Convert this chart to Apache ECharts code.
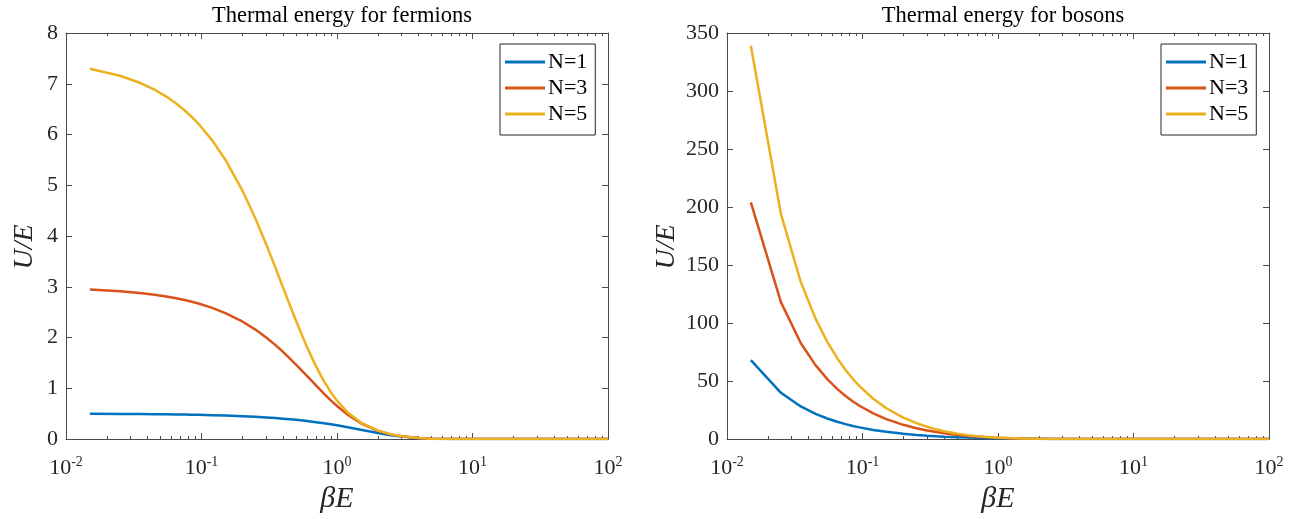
<!DOCTYPE html>
<html>
<head>
<meta charset="utf-8">
<script src="https://cdn.jsdelivr.net/npm/echarts@6/dist/echarts.min.js"></script>
<style>
  html, body { margin: 0; padding: 0; background: #fff; }
  #chart { width: 1306px; height: 519px; }
</style>
</head>
<body>
<div id="chart"></div>
<script>
// ---- data ----
const betaE = [0.015, 0.025, 0.035, 0.045, 0.055, 0.065, 0.075, 0.085, 0.095, 0.12, 0.15, 0.2, 0.25, 0.3, 0.35, 0.4, 0.45, 0.5, 0.6, 0.7, 0.8, 0.9, 1, 1.2, 1.5, 2, 2.5, 3, 4, 5, 7, 10, 20, 50, 100];

const fermionN1 = [0.4963, 0.4938, 0.4913, 0.4888, 0.4863, 0.4838, 0.4813, 0.4788, 0.4763, 0.4700, 0.4626, 0.4502, 0.4378, 0.4256, 0.4134, 0.4013, 0.3894, 0.3775, 0.3543, 0.3318, 0.3100, 0.2891, 0.2689, 0.2315, 0.1824, 0.1192, 0.0759, 0.0474, 0.0180, 0.0067, 0.0009, 0, 0, 0, 0];
const fermionN3 = [2.9475, 2.9125, 2.8776, 2.8427, 2.8078, 2.7731, 2.7384, 2.7038, 2.6692, 2.5835, 2.4818, 2.3158, 2.1554, 2.0014, 1.8547, 1.7158, 1.5851, 1.4627, 1.2429, 1.0548, 0.8955, 0.7617, 0.6496, 0.4776, 0.3103, 0.1626, 0.0909, 0.0527, 0.0187, 0.0068, 0.0009, 0, 0, 0, 0];
const fermionN5 = [7.2938, 7.1566, 7.0196, 6.8831, 6.7471, 6.6119, 6.4774, 6.3436, 6.2109, 5.8842, 5.5032, 4.9006, 4.3446, 3.8392, 3.3862, 2.9837, 2.6293, 2.3188, 1.8127, 1.4306, 1.1421, 0.9230, 0.7550, 0.5226, 0.3229, 0.1642, 0.0911, 0.0528, 0.0187, 0.0068, 0.0009, 0, 0, 0, 0];

const bosonN1 = [68, 39.8, 28.07, 21.73, 17.69, 14.89, 12.84, 11.27, 10.03, 7.843, 6.179, 4.517, 3.521, 2.858, 2.386, 2.033, 1.760, 1.542, 1.216, 0.986, 0.816, 0.685, 0.582, 0.431, 0.287, 0.157, 0.0894, 0.0524, 0.0187, 0.0068, 0.0009, 0, 0, 0, 0];
const bosonN3 = [204, 118, 82.76, 63.72, 51.61, 43.23, 37.09, 32.39, 28.69, 22.14, 17.17, 12.23, 9.290, 7.347, 5.974, 4.958, 4.180, 3.567, 2.673, 2.060, 1.621, 1.297, 1.052, 0.715, 0.426, 0.201, 0.1047, 0.0577, 0.0193, 0.0069, 0.0009, 0, 0, 0, 0];
const bosonN5 = [339, 194, 135.5, 103.8, 83.66, 69.72, 59.51, 51.71, 45.57, 34.71, 26.52, 18.41, 13.63, 10.51, 8.335, 6.753, 5.561, 4.640, 3.333, 2.474, 1.885, 1.466, 1.161, 0.761, 0.438, 0.203, 0.1049, 0.0578, 0.0194, 0.0069, 0.0009, 0, 0, 0, 0];

const seriesNames = ['N=1', 'N=3', 'N=5'];
const titles = ['Thermal energy for fermions', 'Thermal energy for bosons'];
const xMajorTicks = [0.01, 0.1, 1, 10, 100];
const xMinorTicks = [];
for (let d = -2; d < 2; d++) {
  for (let m = 2; m <= 9; m++) xMinorTicks.push(+(m * Math.pow(10, d)).toPrecision(6));
}
const yMax = [8, 350];
const yInterval = [1, 50];

// ---- styling ----
const colors = ['#0072BD', '#D95319', '#EDB120'];
const SERIF = '"Liberation Serif", "Times New Roman", serif';
const axisColor = '#4a4a4a';
const textColor = '#262626';
const grids = [
  { left: 66, top: 33, width: 542, height: 406 },
  { left: 727, top: 33, width: 542, height: 406 }
];

function expLabel(v) {
  const e = Math.round(Math.log10(v));
  return '{a|10}{b|' + e + '}';
}

const xAxes = [];
const yAxes = [];
const series = [];
const titleArr = [];
const legends = [];
const seriesData = [[fermionN1, fermionN3, fermionN5], [bosonN1, bosonN3, bosonN5]];
const yNameGap = [27, 46];

for (let g = 0; g < 2; g++) {
  const base = { type: 'log', logBase: 10, min: 0.01, max: 100, gridIndex: g, splitLine: { show: false } };
  xAxes.push(Object.assign({}, base, {
    position: 'bottom',
    name: 'βE', nameLocation: 'middle', nameGap: 40,
    nameTextStyle: { fontFamily: SERIF, fontStyle: 'italic', fontSize: 30, color: textColor },
    axisLine: { show: true, lineStyle: { color: axisColor, width: 1 } },
    axisTick: { show: true, inside: true, length: 6, customValues: xMajorTicks, lineStyle: { color: axisColor } },
    axisLabel: {
      show: true, customValues: xMajorTicks, margin: 16,
      formatter: expLabel,
      rich: {
        a: { fontFamily: SERIF, fontSize: 22, color: textColor },
        b: { fontFamily: SERIF, fontSize: 14, color: textColor, padding: [0, 0, 12, 0] }
      }
    }
  }));
  xAxes.push(Object.assign({}, base, {
    position: 'bottom',
    axisLine: { show: false },
    axisTick: { show: true, inside: true, length: 3, customValues: xMinorTicks, lineStyle: { color: axisColor } },
    axisLabel: { show: false }
  }));
  xAxes.push(Object.assign({}, base, {
    position: 'top',
    axisLine: { show: true, lineStyle: { color: axisColor, width: 1 } },
    axisTick: { show: true, inside: true, length: 6, customValues: xMajorTicks, lineStyle: { color: axisColor } },
    axisLabel: { show: false }
  }));
  xAxes.push(Object.assign({}, base, {
    position: 'top',
    axisLine: { show: false },
    axisTick: { show: true, inside: true, length: 3, customValues: xMinorTicks, lineStyle: { color: axisColor } },
    axisLabel: { show: false }
  }));

  const ybase = { type: 'value', min: 0, max: yMax[g], interval: yInterval[g], gridIndex: g, splitLine: { show: false } };
  yAxes.push(Object.assign({}, ybase, {
    position: 'left',
    name: 'U/E', nameLocation: 'middle', nameGap: yNameGap[g], nameRotate: 90,
    nameTextStyle: { fontFamily: SERIF, fontStyle: 'italic', fontSize: 28, color: textColor, padding: [0, 22, 0, 0] },
    axisLine: { show: true, lineStyle: { color: axisColor, width: 1 } },
    axisTick: { show: true, inside: true, length: 6, lineStyle: { color: axisColor } },
    axisLabel: { show: true, margin: 8, fontFamily: SERIF, fontSize: 22, color: textColor }
  }));
  yAxes.push(Object.assign({}, ybase, {
    position: 'right',
    axisLine: { show: true, lineStyle: { color: axisColor, width: 1 } },
    axisTick: { show: true, inside: true, length: 6, lineStyle: { color: axisColor } },
    axisLabel: { show: false }
  }));

  titleArr.push({
    text: titles[g],
    left: grids[g].left + grids[g].width / 2,
    top: 0,
    textAlign: 'center',
    textStyle: { fontFamily: SERIF, fontWeight: 'normal', fontSize: 22.5, color: '#000' }
  });

  legends.push({
    orient: 'vertical',
    left: g === 0 ? 500 : 1161,
    top: 44,
    data: seriesNames,
    icon: 'rect',
    itemWidth: 40,
    itemHeight: 3,
    itemGap: 4,
    padding: [7, 8, 10, 5],
    borderColor: '#262626',
    borderWidth: 1,
    backgroundColor: '#fff',
    selectedMode: false,
    textStyle: { fontFamily: SERIF, fontSize: 22, color: '#000', padding: [0, 0, 0, -2] }
  });

  for (let s = 0; s < 3; s++) {
    const vals = seriesData[g][s];
    series.push({
      name: seriesNames[s],
      type: 'line',
      xAxisIndex: g * 4,
      yAxisIndex: g * 2,
      data: betaE.map((x, i) => [x, vals[i]]),
      showSymbol: false,
      symbol: 'none',
      smooth: false,
      clip: true,
      color: colors[s],
      lineStyle: { color: colors[s], width: 2.5 },
      animation: false
    });
  }
}

const chart = echarts.init(document.getElementById('chart'), null, { renderer: 'canvas' });
chart.setOption({
  animation: false,
  backgroundColor: '#fff',
  title: titleArr,
  legend: legends,
  grid: grids,
  xAxis: xAxes,
  yAxis: yAxes,
  series: series
});
</script>
</body>
</html>
